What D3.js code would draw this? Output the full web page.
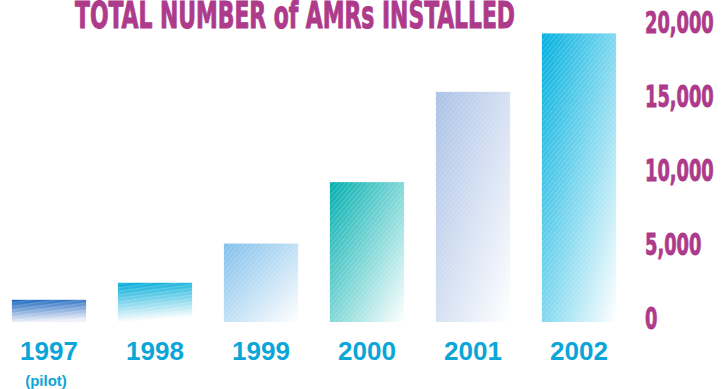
<!DOCTYPE html>
<html>
<head>
<meta charset="utf-8">
<script src="https://cdn.jsdelivr.net/npm/d3@7/dist/d3.min.js"></script>
<style>
  html, body { margin: 0; padding: 0; background: #ffffff; }
  svg { display: block; }
</style>
</head>
<body>
<div id="chart"></div>
<script>
// Installed AMR meters per year
const years = ["1997", "1998", "1999", "2000", "2001", "2002"];
const installed = [1500, 2650, 5300, 9450, 15550, 19500];
const subLabels = ["(pilot)", "", "", "", "", ""];
const yTicks = [0, 5000, 10000, 15000, 20000];
const title = "TOTAL NUMBER of AMRs INSTALLED";

// Bar colour at the saturated corner of each gradient
const barColors = ["#1664bd", "#00abd9", "#80bfea", "#00aeae", "#a9c0e6", "#00b0df"];

const W = 726, H = 389;
const magenta = "#ad3a8a";
const cyan = "#0aa6d8";
const condensed = "'DejaVu Sans Condensed', 'Liberation Sans Narrow', sans-serif";

const svg = d3.select("#chart").append("svg")
  .attr("width", W).attr("height", H);

const x = d3.scaleBand().domain(years).range([-4, 632])
  .paddingInner(0.3).paddingOuter(0.15);
const y = d3.scaleLinear().domain([0, 20000]).range([322, 26]);

const defs = svg.append("defs");

// Per-bar fill: diagonal fade from colour to white, then a faint stripe texture on top
years.forEach((yr, i) => {
  const short = i < 2;
  const g = defs.append("linearGradient").attr("id", "grad" + i)
    .attr("x1", 0).attr("y1", 0)
    .attr("x2", short ? 0.15 : 1).attr("y2", 1);
  g.append("stop").attr("offset", "0%").attr("stop-color", barColors[i]);
  g.append("stop").attr("offset", "100%")
    .attr("stop-color", i === 0 ? "#eef0f8" : "#ffffff");

  const p = defs.append("pattern").attr("id", "hatch" + i)
    .attr("patternUnits", "userSpaceOnUse")
    .attr("width", 3.5).attr("height", 3.5)
    .attr("patternTransform", short ? "rotate(-8)" : "rotate(-50)");
  p.append("rect").attr("x", 0).attr("y", 0).attr("width", 3.5).attr("height", 1)
    .attr("fill", "#ffffff").attr("opacity", 0.2);
});

const bars = svg.append("g");
bars.selectAll("rect.base").data(installed).join("rect")
  .attr("class", "base")
  .attr("x", (d, i) => x(years[i]))
  .attr("y", d => y(d))
  .attr("width", x.bandwidth())
  .attr("height", d => y(0) - y(d))
  .attr("fill", (d, i) => `url(#grad${i})`);
bars.selectAll("rect.tex").data(installed).join("rect")
  .attr("class", "tex")
  .attr("x", (d, i) => x(years[i]))
  .attr("y", d => y(d))
  .attr("width", x.bandwidth())
  .attr("height", d => y(0) - y(d))
  .attr("fill", (d, i) => `url(#hatch${i})`);

// Category labels below the bars
const xAxis = svg.append("g").attr("transform", `translate(0,${y(0)})`)
  .call(d3.axisBottom(x).tickSize(0).tickPadding(0));
xAxis.select(".domain").remove();
xAxis.selectAll("text")
  .attr("dy", null)
  .attr("y", 38)
  .attr("fill", cyan)
  .style("font-family", "'Liberation Sans', Arial, sans-serif")
  .style("font-weight", "bold")
  .style("font-size", "26px");

svg.append("g").selectAll("text").data(subLabels).join("text")
  .attr("x", (d, i) => x(years[i]) + x.bandwidth() / 2 - 3)
  .attr("y", 386)
  .attr("text-anchor", "middle")
  .attr("fill", cyan)
  .style("font-family", "'Liberation Sans', Arial, sans-serif")
  .style("font-weight", "bold")
  .style("font-size", "15px")
  .text(d => d);

// Value axis on the right, squeezed horizontally for a condensed look
const yAxis = svg.append("g").attr("transform", "translate(645,0)")
  .call(d3.axisRight(y).tickValues(yTicks).tickSize(0).tickPadding(0)
    .tickFormat(d3.format(",")));
yAxis.select(".domain").remove();
yAxis.selectAll("text")
  .attr("x", 0)
  .attr("dy", null)
  .attr("y", 6)
  .attr("transform", "scale(0.66,1)")
  .attr("text-anchor", "start")
  .attr("fill", magenta)
  .attr("stroke", magenta)
  .attr("stroke-width", 0.8)
  .style("font-family", condensed)
  .style("font-weight", "bold")
  .style("font-size", "30px");

// Title
svg.append("text")
  .attr("x", 75).attr("y", 28)
  .attr("textLength", 440)
  .attr("lengthAdjust", "spacingAndGlyphs")
  .attr("fill", magenta)
  .attr("stroke", magenta)
  .attr("stroke-width", 1)
  .style("font-family", condensed)
  .style("font-weight", "bold")
  .style("font-size", "38px")
  .text(title);
</script>
</body>
</html>
